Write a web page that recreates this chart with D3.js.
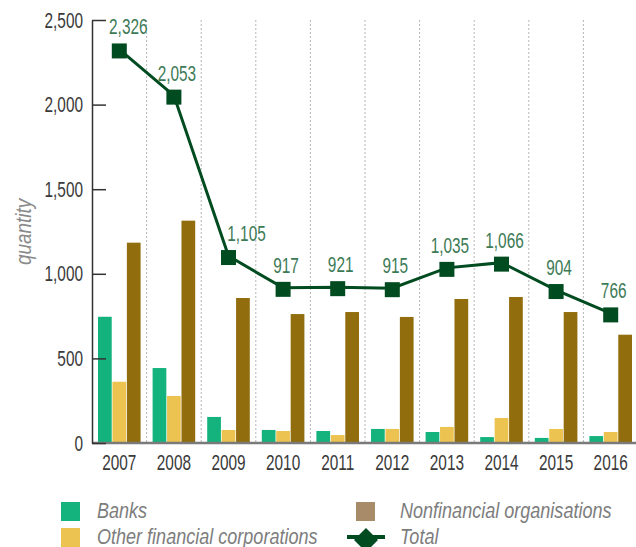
<!DOCTYPE html>
<html>
<head>
<meta charset="utf-8">
<script src="https://cdn.jsdelivr.net/npm/d3@7"></script>
<style>
  html, body { margin: 0; padding: 0; background: #fff; }
  svg { display: block; font-family: "Liberation Sans", Arial, sans-serif; }
</style>
</head>
<body>
<svg id="chart" width="636" height="547"></svg>
<script>
const years = ["2007","2008","2009","2010","2011","2012","2013","2014","2015","2016"];
const banks = [746, 443, 154, 77, 71, 83, 65, 35, 30, 41];
const otherFin = [362, 278, 77, 71, 47, 83, 95, 148, 83, 65];
const nonFin = [1184, 1314, 857, 762, 774, 745, 851, 863, 774, 640];
const total = [2326, 2053, 1105, 917, 921, 915, 1035, 1066, 904, 766];
const yTicks = [0, 500, 1000, 1500, 2000, 2500];
const seriesNames = ["Banks", "Other financial corporations", "Nonfinancial organisations", "Total"];

const colors = { banks: "#14b37d", other: "#ecc350", nonfin: "#916d0d", nonfinLegend: "#a88b68", total: "#004b20", label: "#3d7a56" };

// horizontally condense text around its x anchor
function condense(sel, sx) {
  sel.each(function () {
    const t = d3.select(this);
    const X = +t.attr("x") || 0;
    t.attr("transform", `translate(${X},0) scale(${sx},1) translate(${-X},0)`);
  });
}

const svg = d3.select("#chart");
const x0 = d3.scaleBand().domain(years).range([92, 638]).paddingInner(0.22).paddingOuter(0.11);
const keys = ["banks", "other", "nonfin"];
const x1 = d3.scaleBand().domain(keys).range([0, x0.bandwidth()]).paddingInner(0.05);
const y = d3.scaleLinear().domain([0, 2500]).range([443, 20]);

const step = x0.step();
// dashed separators
svg.append("g").selectAll("line").data(years.slice(0, -1)).join("line")
  .attr("x1", d => x0(d) + x0.bandwidth() + step * 0.11)
  .attr("x2", d => x0(d) + x0.bandwidth() + step * 0.11)
  .attr("y1", y(2500)).attr("y2", y(0))
  .attr("stroke", "#b5b5b5").attr("stroke-width", 1).attr("stroke-dasharray", "2,2");

// bars
const rows = years.map((yr, i) => ({ year: yr, banks: banks[i], other: otherFin[i], nonfin: nonFin[i] }));
const colorOf = { banks: colors.banks, other: colors.other, nonfin: colors.nonfin };
svg.append("g").selectAll("g").data(rows).join("g")
  .attr("transform", d => `translate(${x0(d.year)},0)`)
  .selectAll("rect").data(d => keys.map(k => ({ key: k, value: d[k] }))).join("rect")
  .attr("x", d => x1(d.key)).attr("width", x1.bandwidth())
  .attr("y", d => y(d.value)).attr("height", d => y(0) - y(d.value))
  .attr("fill", d => colorOf[d.key]);

// baseline
svg.append("line").attr("x1", 92).attr("x2", 636).attr("y1", y(0)).attr("y2", y(0))
  .attr("stroke", "#7a7a7a").attr("stroke-width", 2.5);

// y axis
const yAxis = d3.axisLeft(y).tickValues(yTicks).tickFormat(d3.format(",")).tickSizeInner(-14).tickSizeOuter(0).tickPadding(9);
const gy = svg.append("g").attr("transform", "translate(92,0)").call(yAxis);
gy.select(".domain").attr("stroke", "#333").attr("stroke-width", 1.5);
gy.selectAll(".tick line").attr("stroke", "#333").attr("stroke-width", 1.5);
gy.selectAll(".tick text").attr("font-size", 22).attr("fill", "#3a3a3a").attr("font-family", "Liberation Sans, sans-serif")
  .call(condense, 0.7);

// x axis labels
const xAxis = d3.axisBottom(x0).tickSize(0).tickPadding(11);
const gx = svg.append("g").attr("transform", `translate(0,${y(0)})`).call(xAxis);
gx.select(".domain").remove();
gx.selectAll(".tick text").attr("font-size", 22).attr("fill", "#3a3a3a").attr("font-family", "Liberation Sans, sans-serif")
  .call(condense, 0.7);

// y label
svg.append("text").attr("transform", "translate(31,232) rotate(-90) scale(0.86,1)")
  .attr("text-anchor", "middle").attr("font-size", 22).attr("font-style", "italic")
  .attr("fill", "#8a8a8a").text("quantity");

// total line
const cx = d => x0(d) + x0.bandwidth() / 2;
const line = d3.line().x((d, i) => cx(years[i])).y(d => y(d));
svg.append("path").datum(total).attr("d", line).attr("fill", "none")
  .attr("stroke", colors.total).attr("stroke-width", 3);
svg.append("g").selectAll("rect").data(total).join("rect")
  .attr("x", (d, i) => cx(years[i]) - 7.5).attr("y", d => y(d) - 6).attr("width", 15).attr("height", 15)
  .attr("fill", colors.total);
// labels (small shifts where the line would cross the label)
const labelShift = { "2007": 9, "2009": 18 };
svg.append("g").selectAll("text").data(total).join("text")
  .attr("x", (d, i) => cx(years[i]) + (labelShift[years[i]] ?? 3))
  .attr("y", d => y(d) - 15)
  .attr("text-anchor", "middle").attr("font-size", 22).attr("fill", colors.label)
  .text(d => d3.format(",")(d))
  .call(condense, 0.7);

// legend
const lg = svg.append("g");
lg.append("rect").attr("x", 61).attr("y", 502).attr("width", 19).attr("height", 19).attr("fill", colors.banks);
lg.append("rect").attr("x", 61).attr("y", 528).attr("width", 19).attr("height", 19).attr("fill", colors.other);
lg.append("rect").attr("x", 356).attr("y", 502).attr("width", 19).attr("height", 19).attr("fill", colors.nonfinLegend);
lg.append("line").attr("x1", 347).attr("x2", 385).attr("y1", 537).attr("y2", 537).attr("stroke", colors.total).attr("stroke-width", 4);
lg.append("path").attr("d", "M366,528 L378,540 L366,552 L354,540 Z").attr("fill", colors.total);
const legendText = [[97, 518, seriesNames[0]], [97, 544, seriesNames[1]], [400, 518, seriesNames[2]], [400, 544, seriesNames[3]]];
lg.selectAll("text").data(legendText).join("text")
  .attr("x", d => d[0]).attr("y", d => d[1]).attr("font-size", 22).attr("font-style", "italic")
  .attr("fill", "#7d7d7d").text(d => d[2])
  .call(condense, 0.82);
</script>
</body>
</html>
